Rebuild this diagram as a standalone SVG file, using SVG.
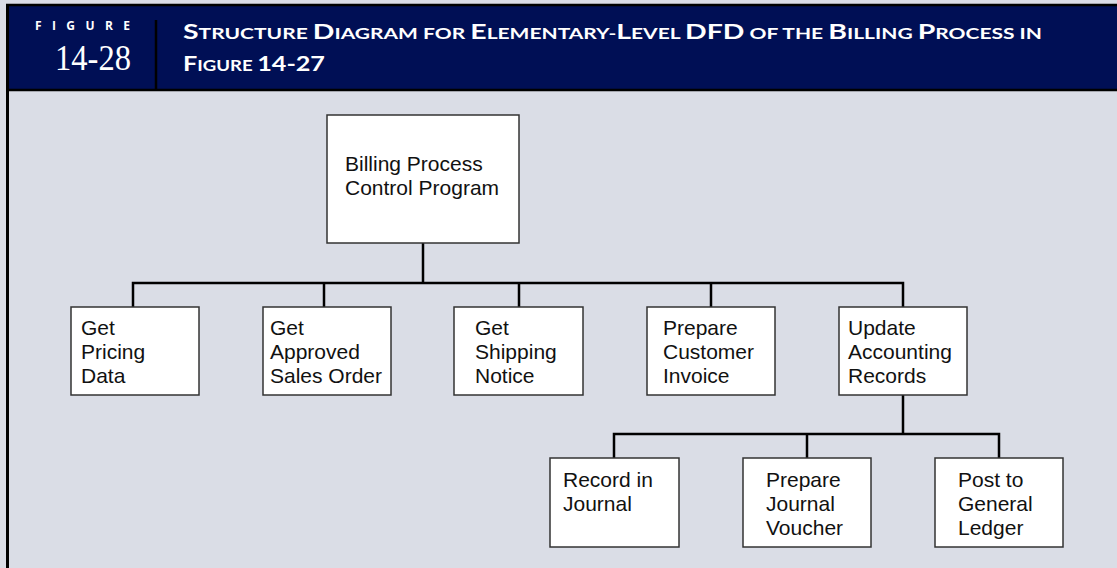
<svg xmlns="http://www.w3.org/2000/svg" width="1117" height="568" viewBox="0 0 1117 568">
<style>
.box{fill:#fff;stroke:#333;stroke-width:1.5}
.lbl{font-family:"Liberation Sans",Arial,sans-serif;font-size:21px;fill:#111}
.conn{fill:none;stroke:#000;stroke-width:2.5}
.ttl{font-family:Lato,"Open Sans",sans-serif;font-weight:bold;fill:#fff}
.big{font-size:21px}
.sm{font-size:15.5px}
</style>
<rect x="0" y="0" width="1117" height="568" fill="#dadde6"/>
<g id="header">
<rect x="7" y="5" width="1110" height="85" fill="#000f55"/>
<line x1="6" y1="5" x2="1117" y2="5" stroke="#000" stroke-width="2.5"/>
<line x1="7" y1="90" x2="1117" y2="90" stroke="#000" stroke-width="2.5"/>
<line x1="7.5" y1="4" x2="7.5" y2="568" stroke="#000" stroke-width="3"/>
<line x1="156" y1="20" x2="156" y2="89" stroke="#000" stroke-width="2.5"/>
<text x="35" y="30" font-family="'Open Sans',Lato,sans-serif" font-weight="bold" font-size="12" fill="#fff" textLength="95" lengthAdjust="spacing">FIGURE</text>
<text x="55" y="70" font-family="'Liberation Serif','Times New Roman',serif" font-size="36" fill="#fff" textLength="76" lengthAdjust="spacingAndGlyphs">14-28</text>
<text class="ttl" x="183" y="39" textLength="859" lengthAdjust="spacingAndGlyphs"><tspan class="big">S</tspan><tspan class="sm">TRUCTURE </tspan><tspan class="big">D</tspan><tspan class="sm">IAGRAM FOR </tspan><tspan class="big">E</tspan><tspan class="sm">LEMENTARY-</tspan><tspan class="big">L</tspan><tspan class="sm">EVEL </tspan><tspan class="big">DFD</tspan><tspan class="sm"> OF THE </tspan><tspan class="big">B</tspan><tspan class="sm">ILLING </tspan><tspan class="big">P</tspan><tspan class="sm">ROCESS IN</tspan></text>
<text class="ttl" x="183" y="71" textLength="142" lengthAdjust="spacingAndGlyphs"><tspan class="big">F</tspan><tspan class="sm">IGURE </tspan><tspan class="big">14-27</tspan></text>
</g>
<g id="connectors">
<path class="conn" d="M423 243V283M133 307V283H903V307M324 283V307M519 283V307M711 283V307"/>
<path class="conn" d="M903 395V434M614 458V434H999V458M807 434V458"/>
</g>
<g id="root"><rect class="box" x="327" y="115" width="192" height="128"/><text class="lbl" x="345" y="171">Billing Process</text><text class="lbl" x="345" y="195">Control Program</text></g>
<g id="n1"><rect class="box" x="71" y="307" width="128" height="88"/><text class="lbl" x="81" y="335">Get</text><text class="lbl" x="81" y="359">Pricing</text><text class="lbl" x="81" y="383">Data</text></g>
<g id="n2"><rect class="box" x="263" y="307" width="128" height="88"/><text class="lbl" x="270" y="335">Get</text><text class="lbl" x="270" y="359">Approved</text><text class="lbl" x="270" y="383">Sales Order</text></g>
<g id="n3"><rect class="box" x="454" y="307" width="129" height="88"/><text class="lbl" x="475" y="335">Get</text><text class="lbl" x="475" y="359">Shipping</text><text class="lbl" x="475" y="383">Notice</text></g>
<g id="n4"><rect class="box" x="647" y="307" width="128" height="88"/><text class="lbl" x="663" y="335">Prepare</text><text class="lbl" x="663" y="359">Customer</text><text class="lbl" x="663" y="383">Invoice</text></g>
<g id="n5"><rect class="box" x="839" y="307" width="128" height="88"/><text class="lbl" x="848" y="335">Update</text><text class="lbl" x="848" y="359">Accounting</text><text class="lbl" x="848" y="383">Records</text></g>
<g id="n6"><rect class="box" x="550" y="458" width="129" height="89"/><text class="lbl" x="563" y="487">Record in</text><text class="lbl" x="563" y="511">Journal</text></g>
<g id="n7"><rect class="box" x="743" y="458" width="128" height="89"/><text class="lbl" x="766" y="487">Prepare</text><text class="lbl" x="766" y="511">Journal</text><text class="lbl" x="766" y="535">Voucher</text></g>
<g id="n8"><rect class="box" x="935" y="458" width="128" height="89"/><text class="lbl" x="958" y="487">Post to</text><text class="lbl" x="958" y="511">General</text><text class="lbl" x="958" y="535">Ledger</text></g>
</svg>
